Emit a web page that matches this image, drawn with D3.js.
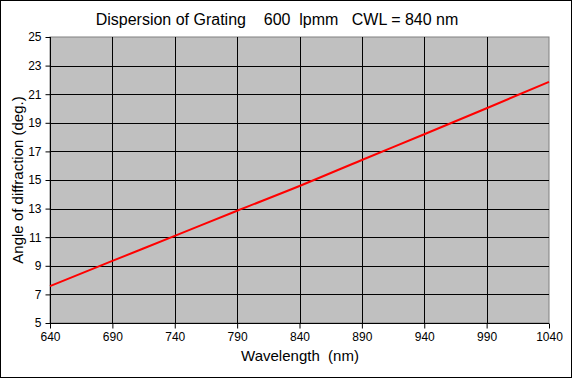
<!DOCTYPE html>
<html><head><meta charset="utf-8">
<script src="https://cdn.jsdelivr.net/npm/d3@7"></script>
<style>body{margin:0;background:#fff}svg{display:block}text{font-family:"Liberation Sans",Arial,sans-serif}</style>
</head><body><svg id="c" width="572" height="378"></svg>
<script>
const wavelengths = [640, 690, 740, 790, 840, 890, 940, 990, 1040];
const angles = [7.58, 9.34, 11.09, 12.85, 14.58, 16.40, 18.20, 20.02, 21.86];
const xTicks = [640, 690, 740, 790, 840, 890, 940, 990, 1040];
const yTicks = [5, 7, 9, 11, 13, 15, 17, 19, 21, 23, 25];
const title = "Dispersion of Grating    600  lpmm   CWL = 840 nm";

const svg = d3.select("#c");
const L = 50, R = 549, T = 37, B = 323;
const x = d3.scaleLinear().domain([640, 1040]).range([L, R]);
const y = d3.scaleLinear().domain([5, 25]).range([B, T]);

svg.append("rect").attr("x",0.5).attr("y",0.5).attr("width",571).attr("height",377)
  .attr("fill","#fff").attr("stroke","#000");
svg.append("rect").attr("x",L).attr("y",T).attr("width",R-L).attr("height",B-T)
  .attr("fill","#C0C0C0").attr("stroke","#808080");

const g = svg.append("g");
xTicks.slice(1,-1).forEach(v=>{
  g.append("line").attr("x1",Math.round(x(v))+0.5).attr("x2",Math.round(x(v))+0.5)
   .attr("y1",T).attr("y2",B).attr("stroke","#000");
});
yTicks.slice(1,-1).forEach(v=>{
  g.append("line").attr("y1",Math.round(y(v))+0.5).attr("y2",Math.round(y(v))+0.5)
   .attr("x1",L).attr("x2",R).attr("stroke","#000");
});

const xa = svg.append("g").attr("transform",`translate(0,${B+0.5})`)
  .call(d3.axisBottom(x).tickValues(xTicks).tickSize(5).tickPadding(4).tickFormat(d3.format("d")));
const ya = svg.append("g").attr("transform",`translate(${L+0.5},0)`)
  .call(d3.axisLeft(y).tickValues(yTicks).tickSize(5).tickPadding(4).tickFormat(d3.format("d")));
[xa,ya].forEach(a=>{
  a.selectAll("text").attr("font-size",12).attr("fill","#000").style("font-family","Liberation Sans, Arial, sans-serif");
  a.selectAll("line,path").attr("stroke","#000");
});
xa.select(".domain").attr("d",`M${L},0H${R}`);
ya.select(".domain").attr("d",`M0,${T}V${B}`);

svg.append("path").datum(wavelengths.map((w,i)=>[w,angles[i]]))
  .attr("fill","none").attr("stroke","#FF0000").attr("stroke-width",2)
  .attr("d", d3.line().x(d=>x(d[0])).y(d=>y(d[1])).curve(d3.curveMonotoneX));

svg.append("text").attr("x",277).attr("y",25).attr("text-anchor","middle")
  .attr("font-size",16).style("white-space","pre").text(title);
svg.append("text").attr("x",300).attr("y",361).attr("text-anchor","middle")
  .attr("font-size",15).style("white-space","pre").text("Wavelength  (nm)");
svg.append("text").attr("transform","translate(23,180) rotate(-90)").attr("text-anchor","middle")
  .attr("font-size",15).text("Angle of diffraction (deg.)");
</script></body></html>
